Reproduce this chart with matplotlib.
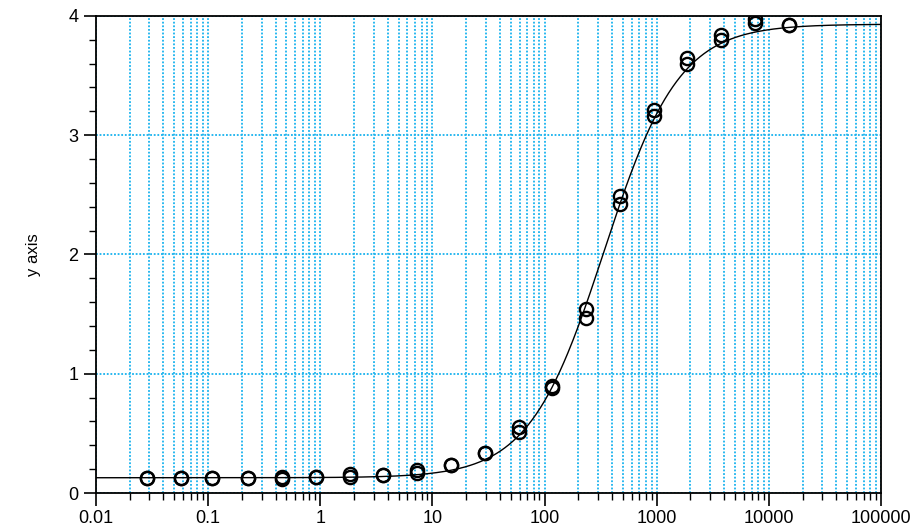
import numpy as np
import matplotlib
matplotlib.use("Agg")
import matplotlib.pyplot as plt
from matplotlib.ticker import LogLocator, FixedLocator, MultipleLocator, NullFormatter

plt.rcParams['font.family'] = ['Liberation Sans', 'DejaVu Sans']

# concentrations (two replicates per concentration)
conc = [0.0286, 0.0572, 0.108, 0.229, 0.458, 0.916, 1.83, 3.66, 7.32, 14.6,
        29.3, 58.6, 117, 234, 469, 938, 1875, 3750, 7500, 15000]
rep1 = [0.123, 0.122, 0.122, 0.123, 0.135, 0.135, 0.158, 0.155, 0.195, 0.235,
        0.335, 0.55, 0.895, 1.545, 2.49, 3.21, 3.65, 3.84, 3.97, 3.92]
rep2 = [0.123, 0.122, 0.122, 0.123, 0.115, 0.135, 0.138, 0.155, 0.165, 0.235,
        0.335, 0.515, 0.88, 1.47, 2.42, 3.16, 3.60, 3.80, 3.94, 3.92]

# 4-parameter logistic fit
fit_bottom = 0.128
fit_top = 3.93
fit_ec50 = 340.0
fit_hill = 1.3

x_ticks = [0.01, 0.1, 1, 10, 100, 1000, 10000, 100000]
x_ticklabels = ['0.01', '0.1', '1', '10', '100', '1000', '10000', '100000']
y_ticks = [0, 1, 2, 3, 4]

fig = plt.figure(figsize=(9.13, 5.32), dpi=100)
ax = fig.add_axes([0.105, 0.0733, 0.86, 0.897])

xs = np.logspace(-2, 5, 600)
ys = fit_bottom + (fit_top - fit_bottom) / (1 + (fit_ec50 / xs) ** fit_hill)
ax.plot(xs, ys, color='black', lw=1.0, zorder=3)

ax.plot(conc, rep1, 'o', mfc='none', mec='black', ms=9.5, mew=1.7, zorder=4)
ax.plot(conc, rep2, 'o', mfc='none', mec='black', ms=9.5, mew=1.7, zorder=4)

ax.set_xscale('log')
ax.set_xlim(0.01, 100000)
ax.set_ylim(0, 4)

ax.xaxis.set_major_locator(FixedLocator(x_ticks))
ax.set_xticklabels(x_ticklabels)
ax.xaxis.set_minor_locator(LogLocator(base=10, subs=np.arange(2, 10), numticks=20))
ax.xaxis.set_minor_formatter(NullFormatter())
ax.yaxis.set_major_locator(FixedLocator(y_ticks))
ax.yaxis.set_minor_locator(MultipleLocator(0.2))

ax.tick_params(which='major', direction='out', length=9, width=1.2, labelsize=13, colors='black')
ax.tick_params(which='minor', direction='out', length=5, width=1.0)

grid_color = '#18b2ee'
ax.grid(which='major', axis='both', color=grid_color, linestyle=(0, (1, 1)), lw=1.3)
ax.grid(which='minor', axis='x', color=grid_color, linestyle=(0, (1, 1)), lw=1.3)
ax.set_axisbelow(True)

for s in ax.spines.values():
    s.set_color('black')
    s.set_linewidth(1.3)

ax.set_ylabel('y axis', fontsize=12, labelpad=20)

fig.savefig('out.png', dpi=100)
